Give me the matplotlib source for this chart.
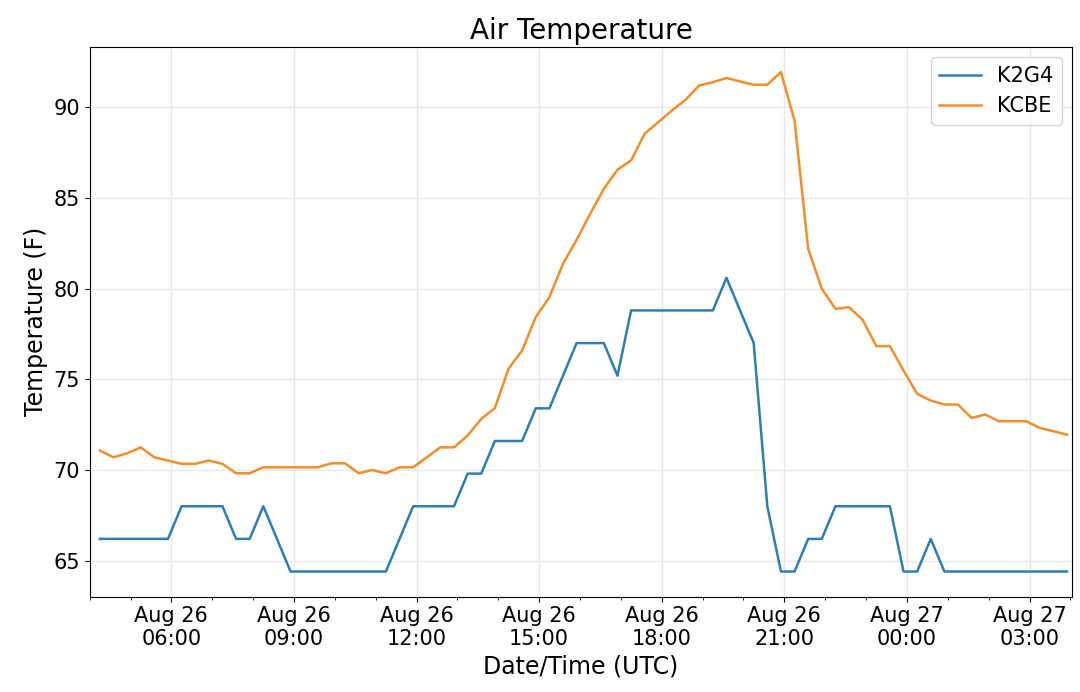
import matplotlib

matplotlib.use("Agg")

import matplotlib.dates as mdates
import matplotlib.pyplot as plt
import pandas as pd

# observation times, every 20 minutes (UTC)
times = pd.date_range("2019-08-26 04:15", periods=72, freq="20min")

k2g4 = [
    66.2, 66.2, 66.2, 66.2, 66.2, 66.2, 68.0, 68.0, 68.0, 68.0,
    66.2, 66.2, 68.0, 66.2, 64.4, 64.4, 64.4, 64.4, 64.4, 64.4,
    64.4, 64.4, 66.2, 68.0, 68.0, 68.0, 68.0, 69.8, 69.8, 71.6,
    71.6, 71.6, 73.4, 73.4, 75.2, 77.0, 77.0, 77.0, 75.2, 78.8,
    78.8, 78.8, 78.8, 78.8, 78.8, 78.8, 80.6, 78.8, 77.0, 68.0,
    64.4, 64.4, 66.2, 66.2, 68.0, 68.0, 68.0, 68.0, 68.0, 64.4,
    64.4, 66.2, 64.4, 64.4, 64.4, 64.4, 64.4, 64.4, 64.4, 64.4,
    64.4, 64.4,
]

kcbe = [
    71.07, 70.70, 70.92, 71.25, 70.70, 70.52, 70.34, 70.34, 70.52, 70.34,
    69.82, 69.82, 70.15, 70.15, 70.15, 70.15, 70.15, 70.37, 70.37, 69.82,
    70.00, 69.82, 70.15, 70.15, 70.70, 71.25, 71.25, 71.90, 72.82, 73.42,
    75.58, 76.59, 78.43, 79.53, 81.37, 82.70, 84.13, 85.51, 86.56, 87.08,
    88.55, 89.19, 89.83, 90.42, 91.21, 91.39, 91.62, 91.43, 91.25, 91.25,
    91.95, 89.28, 82.20, 80.00, 78.89, 78.98, 78.28, 76.83, 76.83, 75.49,
    74.20, 73.83, 73.61, 73.61, 72.87, 73.06, 72.69, 72.69, 72.69, 72.32,
    72.14, 71.95,
]

fig, ax = plt.subplots(figsize=(10.8, 6.92), dpi=100)

ax.plot(times, k2g4, color="#2f7eb0", linewidth=1.8, label="K2G4")
ax.plot(times, kcbe, color="#f28e2b", linewidth=1.8, label="KCBE")

ax.set_xlim(pd.Timestamp("2019-08-26 04:00"), pd.Timestamp("2019-08-27 04:03"))
ax.xaxis.set_major_locator(mdates.HourLocator(byhour=range(0, 24, 3)))
ax.xaxis.set_minor_locator(mdates.HourLocator())
ax.xaxis.set_major_formatter(mdates.DateFormatter("%b %d\n%H:%M"))

ax.grid(True, which="major", color="#e8e8e8", linewidth=1)
ax.tick_params(axis="both", which="major", labelsize=15)

ax.set_title("Air Temperature", fontsize=20)
ax.set_xlabel("Date/Time (UTC)", fontsize=17)
ax.set_ylabel("Temperature (F)", fontsize=17)
ax.legend(loc="upper right", fontsize=15)

fig.subplots_adjust(left=0.083, right=0.993, top=0.932, bottom=0.138)
fig.savefig("out.png", dpi=100)
